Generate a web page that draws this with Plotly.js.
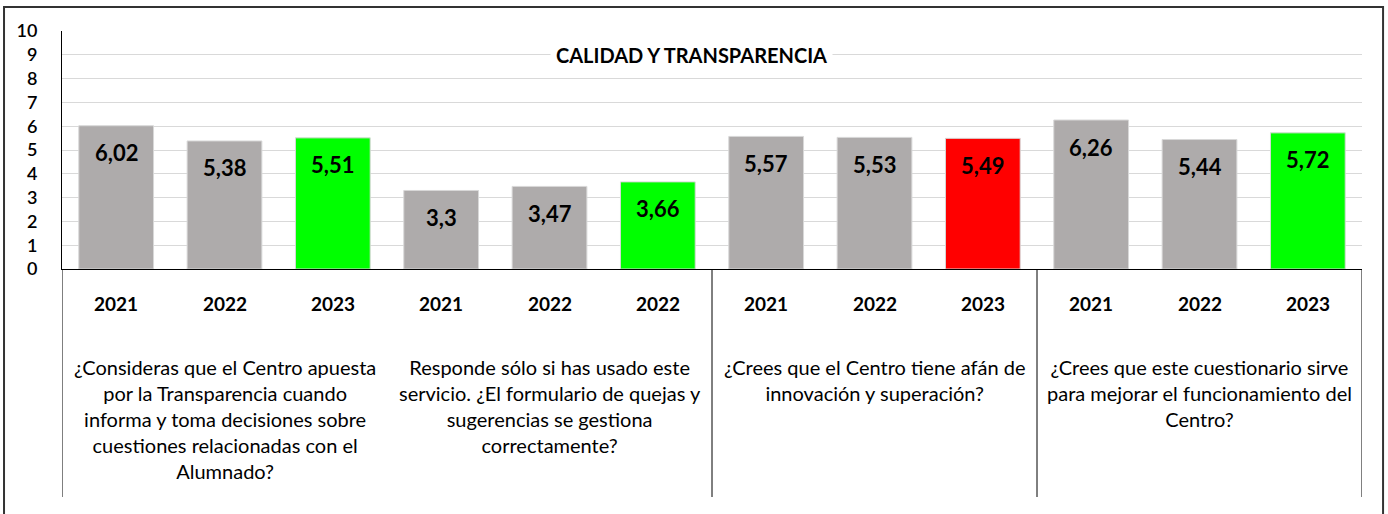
<!DOCTYPE html>
<html>
<head>
<meta charset="utf-8">
<script src="https://cdn.plot.ly/plotly-3.0.1.min.js"></script>
<style>html,body{margin:0;padding:0;background:#fff;}#chart{width:1388px;height:514px;}</style>
</head>
<body>
<div id="chart"></div>
<script>
const chartTitle = 'CALIDAD Y TRANSPARENCIA';
const questions = [
  '¿Consideras que el Centro apuesta<br>por la Transparencia cuando<br>informa y toma decisiones sobre<br>cuestiones relacionadas con el<br>Alumnado?',
  'Responde sólo si has usado este<br>servicio. ¿El formulario de quejas y<br>sugerencias se gestiona<br>correctamente?',
  '¿Crees que el Centro tiene afán de<br>innovación y superación?',
  '¿Crees que este cuestionario sirve<br>para mejorar el funcionamiento del<br>Centro?'
];
const years = ['2021','2022','2023','2021','2022','2022','2021','2022','2023','2021','2022','2023'];
const values = [6.02,5.38,5.51,3.3,3.47,3.66,5.57,5.53,5.49,6.26,5.44,5.72];
const yTicks = [0,1,2,3,4,5,6,7,8,9,10];

const GRAY = '#aeabab', GREEN = '#00ff00', RED = '#ff0000';
const xs = values.map((v, i) => i);
const colors = values.map((v, i) => {
  if (i % 3 !== 2) return GRAY;
  return v >= values[i - 1] ? GREEN : RED;
});
const fmt = v => String(v).replace('.', ',');
const FONT = 'Lato, "Open Sans", sans-serif';

const annotations = [];
values.forEach((v, i) => {
  annotations.push({x: xs[i], y: v, xref: 'x', yref: 'y', text: fmt(v), showarrow: false,
    yanchor: 'middle', yshift: -27, font: {family: FONT, size: 22, color: '#000', weight: 700}});
  annotations.push({x: xs[i], y: -0.147, xref: 'x', yref: 'paper', text: years[i], showarrow: false,
    yanchor: 'middle', font: {family: FONT, size: 19, color: '#000', weight: 700}});
});
questions.forEach((q, g) => {
  annotations.push({x: 3 * g + 1, y: -0.355, xref: 'x', yref: 'paper', text: q, showarrow: false,
    yanchor: 'top', align: 'center', font: {family: FONT, size: 20, color: '#000'}});
});
annotations.push({x: 0.484, y: 9, xref: 'paper', yref: 'y', text: '<b>' + chartTitle + '</b>', showarrow: false,
  yanchor: 'middle', bgcolor: '#fff', borderpad: 5, font: {family: FONT, size: 20, color: '#000'}});

const shapes = [];
[-0.5, 5.5, 8.5, 11.5].forEach(x => {
  shapes.push({type: 'line', xref: 'x', yref: 'paper', x0: x, x1: x, y0: -0.958, y1: 0,
    line: {color: '#000', width: 1}});
});
// outer frame
shapes.push({type: 'rect', xref: 'paper', yref: 'paper', x0: -0.0446, x1: 1.0162, y0: -1.1, y1: 1.1008,
  line: {color: '#333', width: 2}, fillcolor: 'rgba(0,0,0,0)', layer: 'below'});

const trace = {
  type: 'bar', x: xs, y: values,
  marker: {color: colors, line: {color: '#d8d8d8', width: 1}},
  width: 0.69, hoverinfo: 'skip'
};

const layout = {
  width: 1388, height: 514,
  margin: {l: 62, r: 26, t: 31, b: 245},
  paper_bgcolor: '#fff', plot_bgcolor: '#fff',
  showlegend: false,
  xaxis: {range: [-0.5, 11.5], showticklabels: false, showgrid: false, zeroline: false,
    showline: true, linecolor: '#000', linewidth: 1, ticks: '', fixedrange: true},
  yaxis: {range: [0, 10], tickvals: yTicks, ticktext: yTicks.map(String), showgrid: true,
    gridcolor: '#d9d9d9', gridwidth: 1, zeroline: false, showline: true, linecolor: '#000',
    linewidth: 1, ticks: '', ticklabelstandoff: 20,
    tickfont: {family: FONT, size: 18, color: '#000', weight: 600}},
  annotations: annotations,
  shapes: shapes
};

Plotly.newPlot('chart', [trace], layout, {displayModeBar: false, staticPlot: true});
</script>
</body>
</html>
